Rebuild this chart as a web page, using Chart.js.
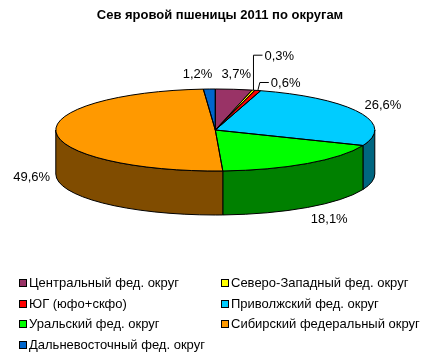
<!DOCTYPE html>
<html><head><meta charset="utf-8">
<script src="https://cdn.jsdelivr.net/npm/chart.js@4/dist/chart.umd.min.js"></script>
<style>html,body{margin:0;padding:0;background:#fff;}canvas{display:block}</style>
</head><body>
<canvas id="c" width="440" height="357"></canvas>
<script>
const titleText = 'Сев яровой пшеницы 2011 по округам';
const categories = ['Центральный фед. округ','Северо-Западный фед. округ','ЮГ (юфо+скфо)','Приволжский фед. округ','Уральский фед. округ','Сибирский федеральный округ','Дальневосточный фед. округ'];
const shares = [3.7, 0.3, 0.6, 26.6, 18.1, 49.6, 1.2];
const valueLabels = ['3,7%','0,3%','0,6%','26,6%','18,1%','49,6%','1,2%'];
const topColors = ['#993366','#FFFF00','#FF0000','#00CCFF','#00FF00','#FF9900','#0066CC'];
const sideColors = ['#4D1A33','#808000','#800000','#006680','#008000','#804C00','#003366'];

const GEO = {cx:215.3, cy:130, rx:159.5, ry:41, depth:44};
const FONT = '"Liberation Sans", Arial, sans-serif';
const FS = 13;

const pie3d = {
  id:'pie3d',
  beforeDatasetsDraw(chart){
    const ctx = chart.ctx, arcs = chart.getDatasetMeta(0).data;
    const {cx,cy,rx,ry,depth} = GEO;
    ctx.save();
    ctx.lineWidth = 1; ctx.strokeStyle = '#000';
    arcs.forEach((arc,i)=>{
      const a = Math.max(arc.startAngle,0), b = Math.min(arc.endAngle,Math.PI);
      if(b<=a) return;
      ctx.beginPath();
      ctx.ellipse(cx,cy,rx,ry,0,a,b,false);
      ctx.ellipse(cx,cy+depth,rx,ry,0,b,a,true);
      ctx.closePath();
      ctx.fillStyle = sideColors[i]; ctx.fill(); ctx.stroke();
    });
    ctx.restore();
    const a0 = arcs[0], R = a0.outerRadius;
    ctx.save();
    ctx.translate(cx,cy); ctx.scale(rx/R, ry/R); ctx.translate(-a0.x,-a0.y);
  },
  afterDatasetsDraw(chart){
    const ctx = chart.ctx, arcs = chart.getDatasetMeta(0).data;
    ctx.restore();
    const {cx,cy,rx,ry,depth} = GEO;
    ctx.save();
    ctx.lineWidth = 1; ctx.strokeStyle = '#000';
    arcs.forEach(arc=>{
      ctx.beginPath();
      ctx.moveTo(cx,cy);
      ctx.ellipse(cx,cy,rx,ry,0,arc.startAngle,arc.endAngle,false);
      ctx.closePath(); ctx.stroke();
    });
    // value labels
    ctx.font = FS + 'px ' + FONT; ctx.fillStyle = '#000'; ctx.textBaseline = 'middle';
    const boxes = [];
    const h = FS, gap = 9;
    arcs.forEach((arc,i)=>{
      if(shares[i] < 1) return;
      const m = (arc.startAngle+arc.endAngle)/2, c = Math.cos(m), s = Math.sin(m);
      const w = ctx.measureText(valueLabels[i]).width;
      const qx = cx + (rx+6)*c, qy = cy + (ry+6)*s + (s>0?depth:0);
      let x = Math.abs(c)<0.3 ? qx + w/2*c : qx + Math.sign(c)*w/2;
      const y = qy + (h/2+2.5)*s;
      for(const b of boxes){
        if(Math.abs(b.y-y) < h && x - w/2 < b.x + b.w/2 + gap && x + w/2 > b.x - b.w/2 - gap){
          if(c<0) x = b.x - b.w/2 - gap - w/2; else x = b.x + b.w/2 + gap + w/2;
        }
      }
      boxes.push({x,y,w});
      ctx.textAlign = 'center';
      ctx.fillText(valueLabels[i], x, y);
    });
    // leader labels for tiny slices
    let k = 0;
    for(let i=arcs.length-1;i>=0;i--){
      if(shares[i] >= 1) continue;
      const arc = arcs[i];
      const m = (arc.startAngle+arc.endAngle)/2;
      const px = cx + rx*Math.cos(m), py = cy + ry*Math.sin(m);
      const ex = px + (k===0?2:0), ey = py - 8 - 27*k;
      ctx.beginPath();
      ctx.moveTo(px,py); ctx.lineTo(ex,ey); ctx.lineTo(ex+9,ey);
      ctx.stroke();
      ctx.textAlign = 'left';
      ctx.fillText(valueLabels[i], ex+11, ey+1);
      k++;
    }
    // legend
    categories.forEach((name,i)=>{
      const col = i%2, row = Math.floor(i/2);
      const bx = col ? 221 : 19, yc = 283 + row*20.7;
      ctx.fillStyle = topColors[i];
      ctx.fillRect(bx+0.5, Math.round(yc)-3.5, 7, 7);
      ctx.strokeRect(bx+0.5, Math.round(yc)-3.5, 7, 7);
      ctx.fillStyle = '#000'; ctx.textAlign = 'left';
      ctx.fillText(name, bx+10, yc+0.5);
    });
    ctx.restore();
  }
};

new Chart(document.getElementById('c'), {
  type:'pie',
  data:{ labels:categories, datasets:[{ data:shares, backgroundColor:topColors, borderWidth:0 }] },
  options:{
    responsive:false, animation:false, events:[],
    layout:{padding:{left:40,right:40,top:0,bottom:90}},
    plugins:{
      legend:{display:false}, tooltip:{enabled:false},
      title:{display:true, text:titleText, color:'#000', font:{family:FONT, size:13, weight:'bold'}, padding:{top:8,bottom:10}}
    }
  },
  plugins:[pie3d]
});
</script>
</body></html>
